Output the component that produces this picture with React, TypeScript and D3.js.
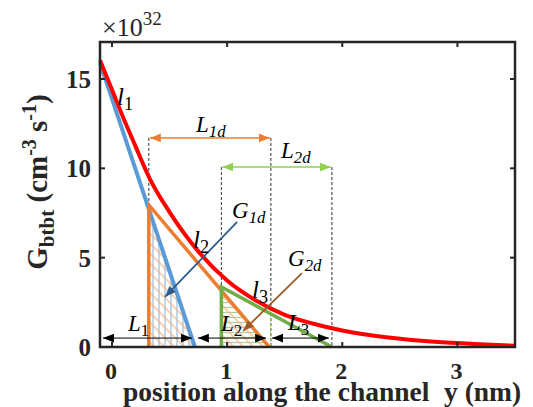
import React from "react";
import * as d3 from "d3";

// red curve: generation rate vs position (x1e32)
const posRed = [-0.104, 0, 0.1, 0.2, 0.33, 0.5, 0.75, 1.0, 1.25, 1.5, 1.75, 2.0, 2.4, 2.8, 3.2, 3.5];
const gRed = [16.05, 14.4, 12.8, 11.3, 9.4, 7.55, 5.35, 3.72, 2.6, 1.8, 1.3, 0.92, 0.53, 0.29, 0.15, 0.07];

// tangent lines l1, l2, l3
const l1X = [-0.104, 0.72];
const l1Y = [15.9, 0];
const l2X = [0.32, 0.32, 1.365];
const l2Y = [0, 7.95, 0];
const l3X = [0.95, 0.95, 1.91];
const l3Y = [0, 3.36, 0];

// hatched areas G1d, G2d
const g1dX = [0.32, 0.32, 0.72];
const g1dY = [0, 7.76, 0];
const g2dX = [0.95, 0.95, 1.365];
const g2dY = [0, 3.16, 0];

// dimension arrows
const lenLevel = 0.5;
const lenEdges = [-0.104, 0.72, 1.365, 1.91];
const lenLabels = ["1", "2", "3"];
const l1dX = [0.32, 1.38];
const l1dY = 11.7;
const l2dX = [0.95, 1.91];
const l2dY = 10.07;

const xTicks = [0, 1, 2, 3];
const yTicks = [0, 5, 10, 15];

const W = 533;
const H = 407;
const left = 100, right = 515, top = 42, bottom = 347;

const x = d3.scaleLinear().domain([-0.104, 3.5]).range([left, right]);
const y = d3.scaleLinear().domain([0, 17.07]).range([bottom, top]);

const lineOf = (xs: number[], ys: number[]) =>
  d3.line<number>().x((d, i) => x(xs[i])).y((d, i) => y(ys[i]))(xs) || "";

const redPath = d3
  .line<number>()
  .x((d, i) => x(posRed[i]))
  .y((d, i) => y(gRed[i]))
  .curve(d3.curveMonotoneX)(posRed) || "";

const serif = "'Liberation Serif', 'Times New Roman', serif";

function Marker({ id, color, size = 10 }: { id: string; color: string; size?: number }) {
  return (
    <marker id={id} viewBox="0 0 10 10" refX="10" refY="5" markerWidth={size} markerHeight={size}
      markerUnits="userSpaceOnUse" orient="auto-start-reverse">
      <path d="M0,1 L10,5 L0,9 Z" fill={color} />
    </marker>
  );
}

function Sym({ px, py, main, sub, size = 22 }: { px: number; py: number; main: string; sub: string; size?: number }) {
  return (
    <text x={px} y={py} fontFamily={serif} fontStyle="italic" fontSize={size} fill="#000">
      {main}
      <tspan fontSize={size * 0.73} dy={5} fontStyle={sub.length > 1 ? "italic" : "normal"}>{sub}</tspan>
    </text>
  );
}

export default function App() {
  const l1dColor = "#ed7d31";
  const l2dColor = "#92d050";
  const l3At = (v: number) => l3Y[1] * (l3X[2] - v) / (l3X[2] - l3X[1]);
  return (
    <svg width={W} height={H} style={{ position: "absolute", left: 0, top: 0, background: "#fff" }}>
      <defs>
        <Marker id="mk-black" color="#000" size={11} />
        <Marker id="mk-orange" color={l1dColor} size={11} />
        <Marker id="mk-green" color={l2dColor} size={11} />
        <Marker id="mk-navy" color="#2e5d8c" size={11} />
        <Marker id="mk-brown" color="#9c5a24" size={11} />
        <pattern id="hatch-blue" patternUnits="userSpaceOnUse" width={6} height={6}>
          <line x1={3} y1={0} x2={3} y2={6} stroke="#9dc3e6" strokeWidth={1.3} />
        </pattern>
        <pattern id="hatch-orange" patternUnits="userSpaceOnUse" width={7} height={7}
          patternTransform="rotate(45)">
          <line x1={0} y1={3} x2={7} y2={3} stroke="#f4b183" strokeWidth={1.2} />
        </pattern>
        <pattern id="hatch-green" patternUnits="userSpaceOnUse" width={6} height={5}>
          <line x1={0} y1={2.5} x2={6} y2={2.5} stroke="#a9d18e" strokeWidth={1.2} />
        </pattern>
      </defs>

      {/* hatched regions */}
      <path d={lineOf(g1dX, g1dY)} fill="url(#hatch-blue)" />
      <path d={lineOf(g1dX, g1dY)} fill="url(#hatch-orange)" />
      <path d={lineOf(g2dX, g2dY)} fill="url(#hatch-green)" />
      <path d={lineOf(g2dX, g2dY)} fill="url(#hatch-orange)" />

      {/* dashed guides */}
      {[[l1dX[0], l1dY], [l1dX[1], l1dY], [l2dX[0], l2dY], [l2dX[1], l2dY]].map(([px, py], i) => (
        <line key={i} x1={x(px)} x2={x(px)} y1={y(py)} y2={y(0)} stroke="#333"
          strokeWidth={1} strokeDasharray="3,2" />
      ))}
      <line x1={x(l1dX[1])} x2={x(l1dX[1])} y1={y(l3At(l1dX[1]))} y2={y(0)} stroke="#92d050"
        strokeWidth={1.2} strokeDasharray="3,2" />

      {/* tangent lines */}
      <path d={lineOf(l1X, l1Y)} fill="none" stroke="#5b9bd5" strokeWidth={4} />
      <path d={lineOf(l2X, l2Y)} fill="none" stroke="#ed7d31" strokeWidth={3.5} strokeLinejoin="miter" />
      <path d={lineOf(l3X, l3Y)} fill="none" stroke="#70ad47" strokeWidth={3.5} />

      {/* red curve */}
      <path d={redPath} fill="none" stroke="#ff0000" strokeWidth={4} />

      {/* L1d / L2d arrows */}
      <line x1={x(l1dX[0]) + 1} x2={x(l1dX[1]) - 1} y1={y(l1dY)} y2={y(l1dY)} stroke={l1dColor}
        strokeWidth={1.5} markerStart="url(#mk-orange)" markerEnd="url(#mk-orange)" />
      <line x1={x(l2dX[0]) + 1} x2={x(l2dX[1]) - 1} y1={y(l2dY)} y2={y(l2dY)} stroke={l2dColor}
        strokeWidth={1.5} markerStart="url(#mk-green)" markerEnd="url(#mk-green)" />

      {/* L1, L2, L3 arrows */}
      {lenLabels.map((lab, i) => (
        <line key={lab} x1={x(lenEdges[i]) + 3} x2={x(lenEdges[i + 1]) - 3} y1={y(lenLevel)} y2={y(lenLevel)}
          stroke="#000" strokeWidth={1} markerStart="url(#mk-black)" markerEnd="url(#mk-black)" />
      ))}

      {/* G arrows */}
      <line x1={x(1.087)} y1={y(7.0)} x2={x(0.46)} y2={y(2.8)} stroke="#2e5d8c" strokeWidth={1.8}
        markerEnd="url(#mk-navy)" />
      <line x1={x(1.65)} y1={y(4.14)} x2={x(1.14)} y2={y(0.9)} stroke="#9c5a24" strokeWidth={1.8}
        markerEnd="url(#mk-brown)" />

      {/* labels */}
      <Sym px={117} py={105} main="l" sub="1" size={25} />
      <Sym px={193} py={248} main="l" sub="2" size={25} />
      <Sym px={252} py={298} main="l" sub="3" size={25} />
      <Sym px={196} py={132} main="L" sub="1d" size={23} />
      <Sym px={281} py={158} main="L" sub="2d" size={23} />
      <Sym px={232} py={218} main="G" sub="1d" size={23} />
      <Sym px={288} py={266} main="G" sub="2d" size={23} />
      <Sym px={128} py={331} main="L" sub="1" size={23} />
      <Sym px={221} py={331} main="L" sub="2" size={23} />
      <Sym px={288} py={330} main="L" sub="3" size={23} />

      {/* axes box */}
      <rect x={left} y={top} width={right - left} height={bottom - top} fill="none" stroke="#262626" strokeWidth={2.5} />
      {xTicks.map((t) => (
        <g key={"x" + t}>
          <line x1={x(t)} x2={x(t)} y1={bottom} y2={bottom - 5} stroke="#262626" strokeWidth={2} />
          <line x1={x(t)} x2={x(t)} y1={top} y2={top + 5} stroke="#262626" strokeWidth={2} />
          <text x={x(t) - 1} y={379} textAnchor="middle" fontFamily={serif} fontWeight="bold" fontSize={24} fill="#262626">{t}</text>
        </g>
      ))}
      {yTicks.map((t) => (
        <g key={"y" + t}>
          <line x1={left} x2={left + 5} y1={y(t)} y2={y(t)} stroke="#262626" strokeWidth={2} />
          <line x1={right} x2={right - 5} y1={y(t)} y2={y(t)} stroke="#262626" strokeWidth={2} />
          <text x={91} y={y(t) + 9} textAnchor="end" fontFamily={serif} fontWeight="bold" fontSize={25} fill="#262626">{t}</text>
        </g>
      ))}

      {/* exponent */}
      <text x={102} y={36} fontFamily={serif} fontSize={26} fill="#262626">
        ×10<tspan fontSize={19} dy={-11}>32</tspan>
      </text>

      {/* axis titles */}
      <text x={123} y={401} fontFamily={serif} fontWeight="bold" fontSize={27.5} fill="#262626">
        position along the channel
      </text>
      <text x={444} y={401} fontFamily={serif} fontWeight="bold" fontSize={27.5} fill="#262626">
        y (nm)
      </text>
      <text transform="translate(47,182) rotate(-90)" textAnchor="middle" fontFamily={serif} fontWeight="bold"
        fontSize={29} fill="#262626">
        G<tspan fontSize={21} dy={7}>btbt</tspan>
        <tspan dy={-7}> (cm</tspan>
        <tspan fontSize={20} dy={-11}>-3</tspan>
        <tspan dy={11}> s</tspan>
        <tspan fontSize={20} dy={-11}>-1</tspan>
        <tspan dy={11}>)</tspan>
      </text>
    </svg>
  );
}
